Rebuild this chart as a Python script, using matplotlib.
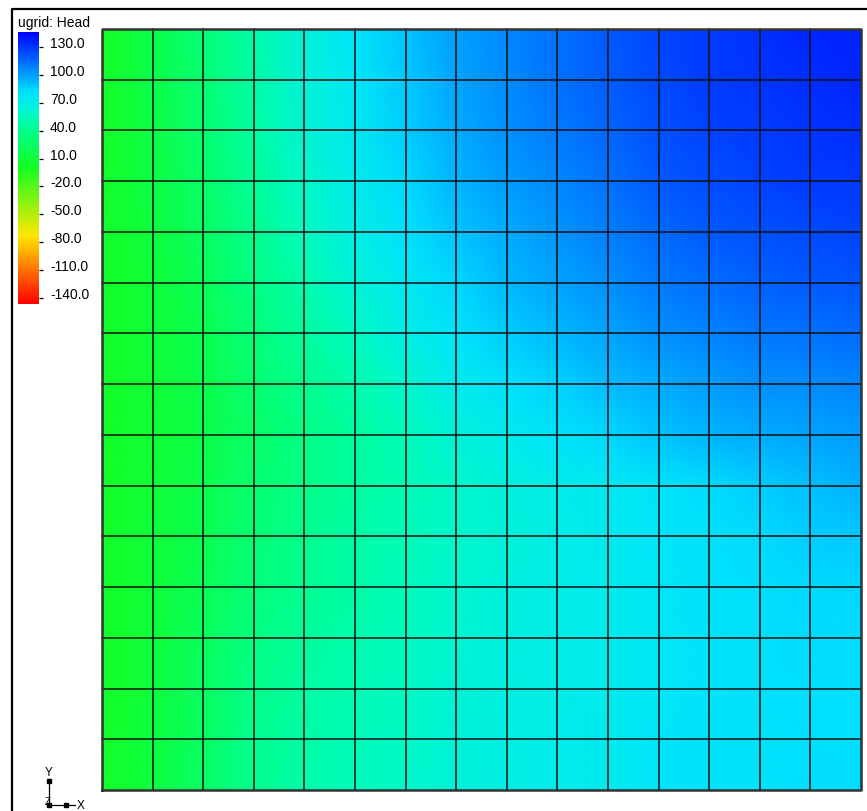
import matplotlib
matplotlib.use("Agg")
import matplotlib.pyplot as plt
import numpy as np
from matplotlib.colors import LinearSegmentedColormap

# Head values at the grid nodes (16 x 16), first row = top edge of the grid
head_nodes = [
    [3, 15, 31, 50, 66, 78, 90, 100, 107, 113, 119, 125, 129, 132, 135, 137],
    [3, 15, 30, 49, 65, 77, 89, 99, 106, 112, 118, 124, 128, 131, 133, 135],
    [3, 14, 29, 47, 63, 75, 87, 97, 104, 110, 116, 122, 126, 129, 131, 133],
    [3, 13, 27, 44, 60, 73, 84, 94, 101, 107, 113, 119, 123, 126, 128, 130],
    [3, 12, 24, 41, 56, 69, 80, 90, 97, 103, 109, 115, 119, 122, 124, 126],
    [3, 10, 21, 37, 51, 64, 75, 85, 93, 99, 105, 110, 114, 117, 119, 121],
    [3, 9, 18, 33, 46, 58, 69, 79, 87, 93, 99, 104, 108, 111, 113, 115],
    [3, 8, 16, 29, 41, 51, 61, 72, 80, 86, 92, 97, 101, 104, 106, 108],
    [3, 7, 15, 27, 37, 46, 55, 65, 73, 79, 85, 90, 94, 97, 99, 101],
    [3, 8, 17, 29, 38, 46, 53, 60, 66, 71, 75, 79, 83, 87, 91, 95],
    [3, 9, 18, 31, 40, 48, 54, 60, 65, 70, 74, 78, 81, 84, 87, 89],
    [3, 10, 20, 33, 42, 49, 55, 61, 66, 70, 73, 77, 80, 82, 84, 85],
    [3, 11, 22, 36, 45, 51, 57, 62, 67, 70, 73, 77, 79, 81, 83, 83],
    [3, 11, 24, 38, 47, 53, 58, 63, 67, 70, 73, 77, 79, 81, 82, 82],
    [3, 12, 25, 40, 49, 54, 59, 64, 68, 71, 74, 78, 80, 81, 82, 82],
    [3, 12, 26, 41, 50, 55, 60, 65, 69, 71, 74, 78, 80, 81, 82, 83],
]

n_cols = 15
n_rows = 15
legend_min = -146.5
legend_max = 146.2
legend_ticks = [130, 100, 70, 40, 10, -20, -50, -80, -110, -140]
legend_title = "ugrid: Head"

# legend colour ramp: (head value, colour)
ramp_values = [-146.5, -73.3, 0, 40, 57, 67, 79, 85, 91, 105, 120, 135, 146.2]
ramp_colors = ['#ff0000', '#ffe600', '#14ff20', '#00ff8c', '#00fcc0', '#00f0e0',
               '#00e5fa', '#00d8ff', '#00c0ff', '#0090ff', '#0058ff', '#0028ff',
               '#0000ff']

W, H = 867, 812
plt.rcParams['font.family'] = ['Liberation Sans', 'DejaVu Sans']

ramp_pos = [(v - legend_min) / (legend_max - legend_min) for v in ramp_values]
ramp_pos[0], ramp_pos[-1] = 0.0, 1.0
cmap = LinearSegmentedColormap.from_list("gms_rainbow", list(zip(ramp_pos, ramp_colors)))

fig = plt.figure(figsize=(W / 100, H / 100), dpi=100)

# overlay in pixel coordinates for frame, legend title and triad
over = fig.add_axes([0, 0, 1, 1])
over.set_xlim(0, W)
over.set_ylim(H, 0)
over.axis('off')
over.plot([12, 12, W], [H, 9.5, 9.5], color='black', lw=1.6, solid_capstyle='butt')
over.text(18, 23, legend_title, fontsize=10, ha='left', va='center')

# axis triad
over.plot([49, 49], [780, 806], color='black', lw=0.9)
over.plot([49, 75], [806, 806], color='black', lw=0.9)
over.plot([49], [782], marker='s', ms=2.5, color='black')
over.plot([66], [806], marker='s', ms=2.5, color='black')
over.plot([49], [806], marker='s', ms=2.5, color='black')
over.text(49, 773, 'Y', fontsize=8.5, ha='center', va='center', fontweight='light')
over.text(81, 806, 'X', fontsize=8.5, ha='center', va='center', fontweight='light')
over.text(48, 802, 'Z', fontsize=7, ha='center', va='center', fontweight='light')

# grid
gx0, gx1, gy0, gy1 = 102, 861, 30, 791
ax = fig.add_axes([gx0 / W, 1 - gy1 / H, (gx1 - gx0) / W, (gy1 - gy0) / H])
xs = np.arange(n_cols + 1)
ys = np.arange(n_rows + 1)
X, Y = np.meshgrid(xs, ys[::-1])
Z = np.array(head_nodes, dtype=float)
mesh = ax.pcolormesh(X, Y, Z, shading='gouraud', cmap=cmap,
                     vmin=legend_min, vmax=legend_max)
ax.set_xlim(0, n_cols)
ax.set_ylim(0, n_rows)
ax.axis('off')
for x in xs[1:-1]:
    ax.plot([x, x], [0, n_rows], color='#111111', lw=1.1, clip_on=False)
for y in ys[1:-1]:
    ax.plot([0, n_cols], [y, y], color='#111111', lw=1.1, clip_on=False)
ax.plot([0, n_cols, n_cols, 0, 0], [0, 0, n_rows, n_rows, 0],
        color='#333333', lw=1.8, clip_on=False)

# legend colour bar
cax = fig.add_axes([18 / W, 1 - 305 / H, 21 / W, 272 / H])
cbar = fig.colorbar(mesh, cax=cax, ticks=legend_ticks, format='%.1f')
cbar.outline.set_visible(False)
cax.tick_params(axis='y', length=3, width=0.9, pad=5, labelsize=10, direction='out')
for lab in cax.get_yticklabels():
    lab.set_va('baseline')

fig.savefig('out.png', dpi=100)
